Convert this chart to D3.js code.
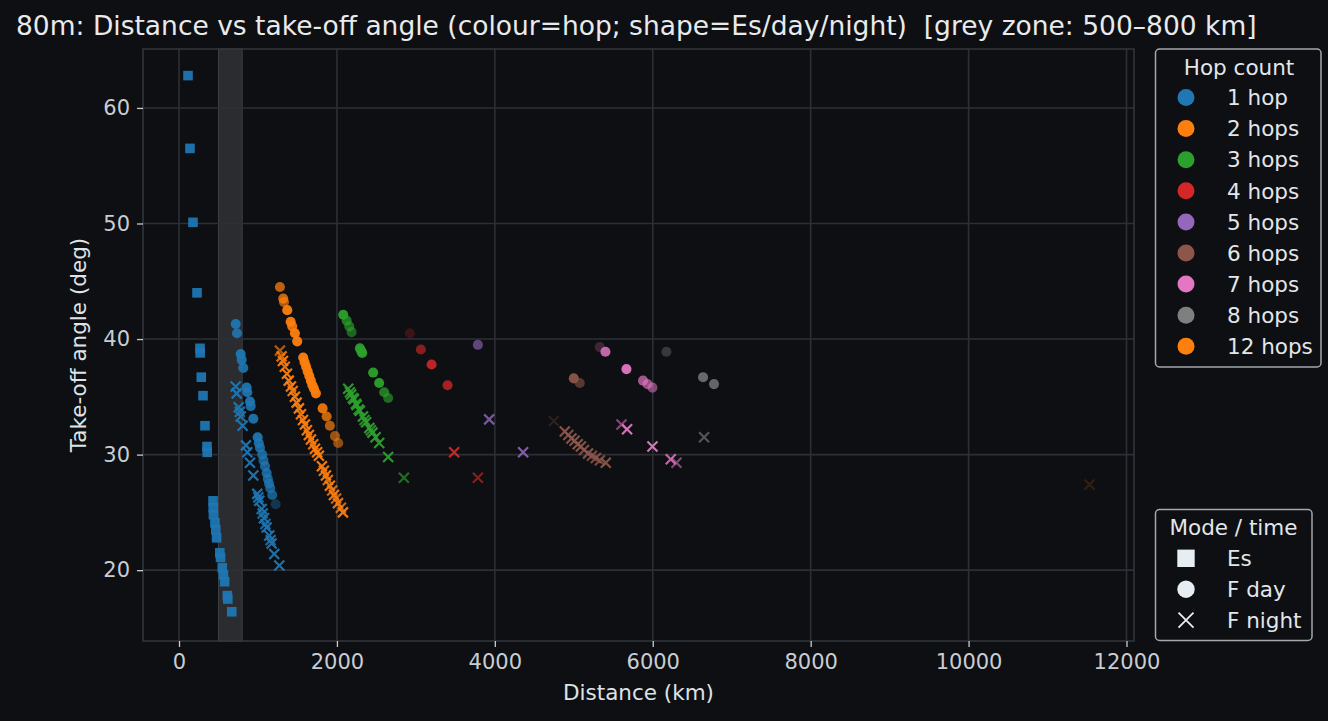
<!DOCTYPE html>
<html>
<head>
<meta charset="utf-8">
<script src="https://cdn.jsdelivr.net/npm/d3@7"></script>
<style>
  html, body { margin: 0; padding: 0; background: #0d0f12; }
  svg { display: block; font-family: "DejaVu Sans", sans-serif; }
  text { white-space: pre; }
</style>
</head>
<body>
<svg id="chart" width="1328" height="721"></svg>
<script>
// ---------------- DATA ----------------
// each point: [distance_km, takeoff_angle_deg, snr_db]
const titleText = "80m: Distance vs take-off angle (colour=hop; shape=Es/day/night)  [grey zone: 500\u2013800 km]";
const xTicks = [0, 2000, 4000, 6000, 8000, 10000, 12000];
const yTicks = [20, 30, 40, 50, 60];
const greyZone = [500, 800];
const hopLabels = ["1 hop", "2 hops", "3 hops", "4 hops", "5 hops", "6 hops", "7 hops", "8 hops", "12 hops"];
const hopKeys = [1, 2, 3, 4, 5, 6, 7, 8, 12];
const modeLabels = ["Es", "F day", "F night"];

const hop1_es = [[114,62.8,0],[139,56.5,0],[177,50.1,0],[228,44.0,0],[266,39.2,0],[268,38.8,0],[282,36.7,0],[304,35.1,0],[329,32.5,0],[355,30.7,0],[357,30.2,0],[431,26.0,0],[433,25.4,0],[436,24.8,0],[455,24.1,0],[466,23.5,0],[476,22.8,0],[517,21.5,0],[526,21.1,0],[548,20.2,0],[563,19.6,0],[578,19.0,0],[612,17.8,0],[618,17.5,0],[668,16.4,0]];
const hop1_day = [[718,41.3,0],[734,40.5,-2],[781,38.7,0],[794,38.2,-1],[814,37.5,-2],[857,35.8,0],[865,35.4,-1],[899,34.6,0],[908,34.2,-2],[941,33.1,-1],[996,31.5,0],[1010,31.0,-2],[1025,30.6,-3],[1054,30.0,-4],[1070,29.5,-5],[1089,29.0,-4],[1110,28.4,-3],[1125,27.9,-4],[1140,27.5,-4],[1155,27.1,-5],[1181,26.5,-6],[1224,25.7,-16]];
const hop1_night = [[718,35.9,0],[730,35.3,0],[756,34.1,0],[770,33.7,-2],[781,33.3,0],[806,32.5,0],[848,30.8,0],[865,30.2,0],[899,29.3,0],[941,28.2,0],[991,26.6,0],[1005,26.3,-2],[1016,26.0,0],[1047,25.3,0],[1060,24.9,-2],[1076,24.5,0],[1095,24.0,-3],[1110,23.7,0],[1143,23.0,0],[1160,22.6,-3],[1173,22.3,0],[1206,21.4,0],[1270,20.4,0]];
const hop2_day = [[1278,44.5,-6],[1320,43.5,-5],[1330,43.2,-8],[1371,42.5,0],[1414,41.5,0],[1434,41.1,-2],[1468,40.5,0],[1497,39.8,0],[1573,38.4,0],[1590,38.0,0],[1610,37.6,0],[1630,37.2,0],[1650,36.8,0],[1670,36.4,0],[1690,36.0,0],[1710,35.7,0],[1734,35.3,0],[1819,34.0,-2],[1870,33.3,-5],[1911,32.5,-7],[1975,31.6,-10],[2016,31.0,-11]];
const hop2_night = [[1278,39.0,-8],[1300,38.5,-3],[1316,38.1,0],[1340,37.6,-2],[1367,37.0,0],[1390,36.4,0],[1418,35.9,0],[1440,35.5,-1],[1468,35.0,0],[1490,34.5,0],[1519,34.0,0],[1545,33.5,-1],[1570,33.0,0],[1595,32.6,0],[1620,32.1,0],[1645,31.7,0],[1671,31.3,0],[1700,30.9,-2],[1722,30.5,0],[1750,30.2,0],[1772,29.9,0],[1810,29.0,0],[1835,28.6,-2],[1861,28.2,0],[1885,27.8,-3],[1911,27.3,0],[1940,26.9,-4],[1962,26.5,0],[1990,26.2,-5],[2013,25.8,-2],[2050,25.4,-4],[2076,25.0,0]];
const hop3_day = [[2080,42.1,0],[2123,41.6,-6],[2156,41.1,-8],[2186,40.6,-10],[2291,39.2,0],[2305,39.0,-2],[2320,38.8,0],[2459,37.1,0],[2535,36.2,0],[2599,35.4,-6],[2649,34.9,-9]];
const hop3_night = [[2143,35.7,0],[2165,35.4,-2],[2180,35.2,0],[2200,34.9,-3],[2215,34.8,0],[2240,34.4,-2],[2250,34.3,0],[2275,33.9,-2],[2290,33.8,0],[2330,33.3,0],[2350,33.0,-3],[2370,32.8,0],[2410,32.3,0],[2430,32.1,-3],[2450,31.9,0],[2490,31.5,0],[2535,31.0,0],[2649,29.8,0],[2848,28.0,-8]];
const hop4_day = [[2924,40.5,-20],[3063,39.1,-9],[3199,37.8,-2],[3401,36.0,-5]];
const hop4_night = [[3485,30.2,0],[3785,28.0,-9]];
const hop5_day = [[3785,39.5,-9]];
const hop5_night = [[3928,33.05,-4],[4358,30.2,-2]];
const hop6_day = [[5000,36.6,0],[5076,36.2,-10]];
const hop6_night = [[4747,32.9,-19],[4886,32.0,0],[4930,31.7,-2],[4970,31.4,0],[5010,31.2,-1],[5050,30.9,0],[5090,30.7,0],[5130,30.4,-2],[5180,30.1,0],[5230,29.9,-3],[5280,29.7,-2],[5330,29.5,-4],[5405,29.3,0]];
const hop7_day = [[5329,39.3,-20],[5401,38.9,-3],[5667,37.4,0],[5877,36.4,-7],[5933,36.1,-9],[5996,35.8,-11]];
const hop7_night = [[5604,32.6,-11],[5675,32.2,0],[5996,30.7,0],[6228,29.6,-3],[6300,29.3,-11]];
const hop8_day = [[6173,38.9,-16],[6637,36.7,-4],[6776,36.1,-5]];
const hop8_night = [[6650,31.5,-9]];
const hop12_night = [[11532,27.4,-22]];

const seriesList = [
  {hop:1, mode:"Es", pts:hop1_es}, {hop:1, mode:"F day", pts:hop1_day}, {hop:1, mode:"F night", pts:hop1_night},
  {hop:2, mode:"F day", pts:hop2_day}, {hop:2, mode:"F night", pts:hop2_night},
  {hop:3, mode:"F day", pts:hop3_day}, {hop:3, mode:"F night", pts:hop3_night},
  {hop:4, mode:"F day", pts:hop4_day}, {hop:4, mode:"F night", pts:hop4_night},
  {hop:5, mode:"F day", pts:hop5_day}, {hop:5, mode:"F night", pts:hop5_night},
  {hop:6, mode:"F day", pts:hop6_day}, {hop:6, mode:"F night", pts:hop6_night},
  {hop:7, mode:"F day", pts:hop7_day}, {hop:7, mode:"F night", pts:hop7_night},
  {hop:8, mode:"F day", pts:hop8_day}, {hop:8, mode:"F night", pts:hop8_night},
  {hop:12, mode:"F night", pts:hop12_night}
];

// ---------------- STYLE / LAYOUT ----------------
const W = 1328, H = 721;
const plot = {left: 143, right: 1134, top: 49, bottom: 641};
const bg = "#0d0f12";
const gridCol = "#2c3036";
const tickTextCol = "#c9cdd2";

const svg = d3.select("#chart");
svg.append("rect").attr("width", W).attr("height", H).attr("fill", bg);

const x = d3.scaleLinear().domain([-456, 12095]).range([plot.left, plot.right]);
const y = d3.scaleLinear().domain([13.87, 65.1]).range([plot.bottom, plot.top]);

const color = d3.scaleOrdinal().domain(hopKeys)
  .range(["#1f77b4","#ff7f0e","#2ca02c","#d62728","#9467bd","#8c564b","#e377c2","#7f7f7f","#ff7f0e"]);
const opacity = d3.scaleLinear().domain([-22, 0]).range([0.15, 0.95]).clamp(true);

// clip
svg.append("clipPath").attr("id", "clip").append("rect")
  .attr("x", plot.left).attr("y", plot.top)
  .attr("width", plot.right - plot.left).attr("height", plot.bottom - plot.top);

// grey zone
svg.append("rect")
  .attr("x", x(greyZone[0])).attr("y", plot.top)
  .attr("width", x(greyZone[1]) - x(greyZone[0])).attr("height", plot.bottom - plot.top)
  .attr("fill", "#2a2c30").attr("stroke", "#3c3f44").attr("stroke-width", 1);

// grid
const grid = svg.append("g");
grid.selectAll(".vg").data(xTicks).join("line")
  .attr("x1", d => x(d)).attr("x2", d => x(d))
  .attr("y1", plot.top).attr("y2", plot.bottom)
  .attr("stroke", gridCol).attr("stroke-width", 1.6);
grid.selectAll(".hg").data(yTicks).join("line")
  .attr("x1", plot.left).attr("x2", plot.right)
  .attr("y1", d => y(d)).attr("y2", d => y(d))
  .attr("stroke", gridCol).attr("stroke-width", 1.6);

// spines
svg.append("rect")
  .attr("x", plot.left).attr("y", plot.top)
  .attr("width", plot.right - plot.left).attr("height", plot.bottom - plot.top)
  .attr("fill", "none").attr("stroke", "#33373d").attr("stroke-width", 1.5);

// axes
const xAxis = svg.append("g").attr("transform", `translate(0,${plot.bottom})`)
  .call(d3.axisBottom(x).tickValues(xTicks).tickFormat(d3.format("d")).tickSize(6).tickPadding(7));
const yAxis = svg.append("g").attr("transform", `translate(${plot.left},0)`)
  .call(d3.axisLeft(y).tickValues(yTicks).tickFormat(d3.format("d")).tickSize(6).tickPadding(7));
[xAxis, yAxis].forEach(a => {
  a.select(".domain").remove();
  a.selectAll(".tick line").attr("stroke", "#c9cdd2").attr("stroke-width", 1.3);
  a.selectAll(".tick text").attr("fill", tickTextCol).attr("font-size", "21px")
    .attr("font-family", "DejaVu Sans");
});

// markers
const marks = svg.append("g").attr("clip-path", "url(#clip)");
const symSquare = d3.symbol().type(d3.symbolSquare).size(92)();
const symCircle = d3.symbol().type(d3.symbolCircle).size(80)();
const crossPath = s => `M${-s},${-s}L${s},${s}M${-s},${s}L${s},${-s}`;

seriesList.forEach(s => {
  const g = marks.append("g");
  const c = color(s.hop);
  const sel = g.selectAll("path").data(s.pts).join("path")
    .attr("transform", d => `translate(${x(d[0])},${y(d[1])})`)
    .attr("opacity", d => opacity(d[2]));
  if (s.mode === "Es") {
    sel.attr("d", symSquare).attr("fill", c);
  } else if (s.mode === "F day") {
    sel.attr("d", symCircle).attr("fill", c);
  } else {
    sel.attr("d", crossPath(5)).attr("fill", "none").attr("stroke", c).attr("stroke-width", 2.2);
  }
});

// title
svg.append("text").attr("x", 16).attr("y", 35)
  .attr("fill", "#e8eaed").attr("font-size", "26.5px").text(titleText);

// axis labels
svg.append("text").attr("x", (plot.left + plot.right) / 2).attr("y", 700)
  .attr("text-anchor", "middle").attr("fill", "#dfe2e6").attr("font-size", "21.5px")
  .text("Distance (km)");
svg.append("text")
  .attr("transform", `translate(86,${(plot.top + plot.bottom) / 2}) rotate(-90)`)
  .attr("text-anchor", "middle").attr("fill", "#dfe2e6").attr("font-size", "21.5px")
  .text("Take-off angle (deg)");

// legend 1: hop count
const lg1 = svg.append("g");
lg1.append("rect").attr("x", 1155.5).attr("y", 49).attr("width", 1321 - 1155.5).attr("height", 318)
  .attr("rx", 4).attr("fill", bg).attr("stroke", "#a3a8ae").attr("stroke-width", 1.5);
lg1.append("text").attr("x", 1239).attr("y", 74.5).attr("text-anchor", "middle")
  .attr("fill", "#e3e6ea").attr("font-size", "21.5px").text("Hop count");
hopKeys.forEach((k, i) => {
  const cy = 97.5 + i * 31.1;
  lg1.append("circle").attr("cx", 1186).attr("cy", cy).attr("r", 8.5).attr("fill", color(k));
  lg1.append("text").attr("x", 1227).attr("y", cy + 7.7).attr("fill", "#e3e6ea")
    .attr("font-size", "21.5px").text(hopLabels[i]);
});

// legend 2: mode / time
const lg2 = svg.append("g");
lg2.append("rect").attr("x", 1155.5).attr("y", 509.5).attr("width", 1312 - 1155.5).attr("height", 131)
  .attr("rx", 4).attr("fill", bg).attr("stroke", "#a3a8ae").attr("stroke-width", 1.5);
lg2.append("text").attr("x", 1233.5).attr("y", 534.5).attr("text-anchor", "middle")
  .attr("fill", "#e3e6ea").attr("font-size", "21.5px").text("Mode / time");
const legCol = "#e6edf3";
modeLabels.forEach((m, i) => {
  const cy = 558.3 + i * 30.9;
  const g = lg2.append("g").attr("transform", `translate(1186,${cy})`);
  if (m === "Es") g.append("rect").attr("x", -8.7).attr("y", -8.7).attr("width", 17.4).attr("height", 17.4).attr("fill", legCol);
  else if (m === "F day") g.append("circle").attr("r", 8.7).attr("fill", legCol);
  else g.append("path").attr("d", crossPath(7.5)).attr("stroke", legCol).attr("stroke-width", 1.8).attr("fill", "none");
  lg2.append("text").attr("x", 1227).attr("y", cy + 7.7).attr("fill", "#e3e6ea")
    .attr("font-size", "21.5px").text(m);
});
</script>
</body>
</html>
